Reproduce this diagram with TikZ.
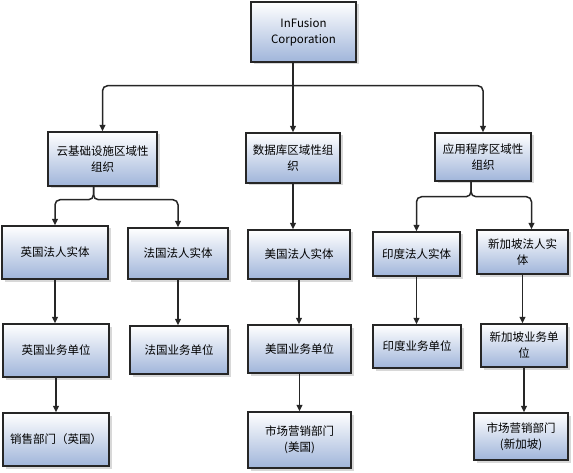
\documentclass[tikz,border=0pt]{standalone}
\usepackage{fontspec}
\setmainfont{Noto Sans CJK SC}
\usetikzlibrary{arrows.meta,shadows}

\definecolor{boxline}{RGB}{38,38,38}
\definecolor{boxblue}{RGB}{160,181,218}

\begin{document}
\begin{tikzpicture}[
x=1pt,y=-1pt,
orgbox/.style={draw=boxline,line width=1.5pt,align=center,inner sep=2pt,
  top color=white,bottom color=boxblue,
  font=\fontsize{11.5}{16}\selectfont,
  drop shadow={shadow xshift=2.5pt,shadow yshift=-2.5pt,fill=gray!60,opacity=.5}},
link/.style={-{Triangle[length=2.2mm,width=2mm]},line width=1.5pt,draw=boxline}]
\useasboundingbox (0,0) rectangle (573,473);
% top
\node[orgbox,minimum width=105,minimum height=60] (corp) at (303.5,32) {InFusion\\Corporation};
% regions
\node[orgbox,minimum width=109,minimum height=54] (cloud) at (102.5,159) {云基础设施区域性\\组织};
\node[orgbox,minimum width=94,minimum height=50,text width=86] (db) at (293,158) {数据库区域性组\\织};
\node[orgbox,minimum width=96,minimum height=48] (app) at (483,157) {应用程序区域性\\组织};
% legal entities
\node[orgbox,minimum width=106,minimum height=53] (ukle) at (55,252.5) {英国法人实体};
\node[orgbox,minimum width=100,minimum height=51] (frle) at (178,253.5) {法国法人实体};
\node[orgbox,minimum width=102,minimum height=49] (usle) at (299,254.5) {美国法人实体};
\node[orgbox,minimum width=87,minimum height=44] (inle) at (416.5,254) {印度法人实体};
\node[orgbox,minimum width=91,minimum height=44] (sgle) at (522.5,252) {新加坡法人实\\体};
% business units
\node[orgbox,minimum width=106,minimum height=53] (ukbu) at (56,350.5) {英国业务单位};
\node[orgbox,minimum width=98,minimum height=48] (frbu) at (179,350) {法国业务单位};
\node[orgbox,minimum width=103,minimum height=48] (usbu) at (299.5,349) {美国业务单位};
\node[orgbox,minimum width=88,minimum height=43] (inbu) at (417,346.5) {印度业务单位};
\node[orgbox,minimum width=86,minimum height=43] (sgbu) at (524,345.5) {新加坡业务单\\位};
% departments
\node[orgbox,minimum width=106,minimum height=53] (ukdept) at (56,439.5) {销售部门（英国）};
\node[orgbox,minimum width=103,minimum height=56] (usdept) at (299.5,440) {市场营销部门\\(美国)};
\node[orgbox,minimum width=94,minimum height=47] (sgdept) at (521,436.5) {市场营销部门\\(新加坡)};
% corporation to regions
\draw[link] (corp.south -| db.north) -- (db.north);
\draw[link,rounded corners=5] (corp.south -| db.north) ++(0,23) -| (cloud.north);
\draw[link,rounded corners=5] (corp.south -| db.north) ++(0,23) -| (app.north);
% regions to legal entities
\draw[link,rounded corners=5] ([xshift=-9]cloud.south) -- ++(0,13) -| (ukle.north);
\draw[link,rounded corners=5] ([xshift=-9]cloud.south) -- ++(0,13) -| (frle.north);
\draw[link] (db.south) -- (db.south |- usle.north);
\draw[link,rounded corners=5] ([xshift=-12]app.south) -- ++(0,15) -| (inle.north);
\draw[link,rounded corners=5] ([xshift=-12]app.south) -- ++(0,15) -| ([xshift=9]sgle.north);
% legal entities to business units
\draw[link] (ukle.south) -- (ukle.south |- ukbu.north);
\draw[link] (frle.south) -- (frle.south |- frbu.north);
\draw[link] (usle.south) -- (usle.south |- usbu.north);
\draw[link] (inle.south) -- (inle.south |- inbu.north);
\draw[link] (sgle.south) -- (sgle.south |- sgbu.north);
% business units to departments
\draw[link] (ukbu.south) -- (ukbu.south |- ukdept.north);
\draw[link] (usbu.south) -- (usbu.south |- usdept.north);
\draw[link] (sgbu.south) -- (sgbu.south |- sgdept.north);
\end{tikzpicture}
\end{document}
